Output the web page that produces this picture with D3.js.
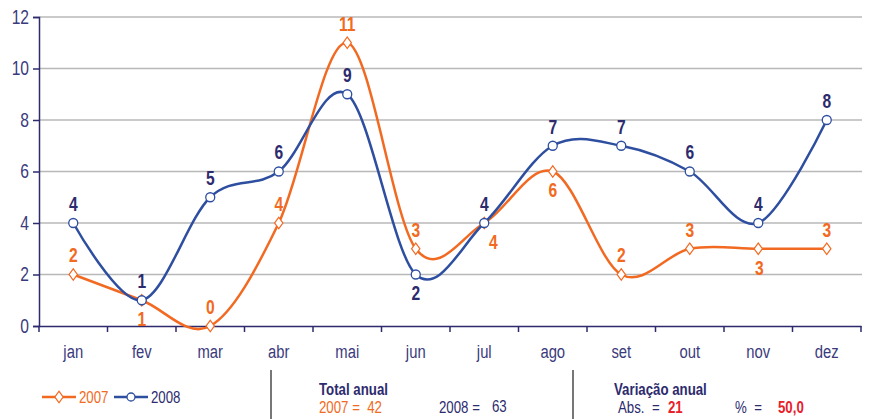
<!DOCTYPE html>
<html><head><meta charset="utf-8">
<script src="https://cdn.jsdelivr.net/npm/d3@7"></script>
<style>
body{margin:0;background:#fff;}
text{font-family:"Liberation Sans","Arial",sans-serif;white-space:pre;}
</style></head>
<body><svg id="c" width="869" height="419"></svg>
<script>
const months = ["jan","fev","mar","abr","mai","jun","jul","ago","set","out","nov","dez"];
const s2007 = [2,1,0,4,11,3,4,6,2,3,3,3];
const s2008 = [4,1,5,6,9,2,4,7,7,6,4,8];
const yTicks = [0,2,4,6,8,10,12];
// label offsets: -1 above, +1 below
const pos2007 = [-1,1,-1,-1,-1,-1,1,1,-1,-1,1,-1];
const pos2008 = [-1,-1,-1,-1,-1,1,-1,-1,-1,-1,-1,-1];

const orange = "#F26A22", blue = "#2E4EA0", navy = "#2D2B6E";
const FF = "'Liberation Sans',Arial,sans-serif";
const svg = d3.select("#c");
const x = d3.scaleBand().domain(months).range([39, 861]);
const y = d3.scaleLinear().domain([0,12]).range([326, 17]);
const cx = d => x(d) + x.bandwidth()/2;

// grid
svg.append("g").selectAll("line").data(yTicks.filter(d=>d>0)).join("line")
  .attr("x1",39).attr("x2",862).attr("y1",d=>y(d)).attr("y2",d=>y(d))
  .attr("stroke","#b8b8b8").attr("stroke-width",1.5);

// y axis
const ya = svg.append("g").attr("transform","translate(39,0)")
  .call(d3.axisLeft(y).tickValues(yTicks).tickSize(6).tickPadding(4));
ya.select(".domain").attr("stroke",navy).attr("stroke-width",1.5);
ya.selectAll(".tick line").attr("stroke",navy).attr("stroke-width",1.5);
ya.selectAll(".tick text").attr("fill","#3a3a7c").style("font-size","20px").style("font-family",FF);

// x axis
const xa = svg.append("g").attr("transform","translate(0,326)")
  .call(d3.axisBottom(x).tickSize(0).tickPadding(19));
xa.select(".domain").attr("stroke",navy).attr("stroke-width",1.5);
xa.selectAll(".tick text").attr("fill","#3a3a7c").style("font-size","19px").style("font-family",FF);
const bounds = months.map(m=>x(m)).concat([x.range()[1]]);
svg.append("g").selectAll("line").data(bounds).join("line")
  .attr("x1",d=>d).attr("x2",d=>d).attr("y1",326).attr("y2",332)
  .attr("stroke",navy).attr("stroke-width",1.5);

const line = d3.line().x((d,i)=>cx(months[i])).y(d=>y(d)).curve(d3.curveCardinal.tension(0));

svg.append("path").datum(s2007).attr("d",line).attr("fill","none").attr("stroke",orange).attr("stroke-width",2.5);
svg.append("path").datum(s2008).attr("d",line).attr("fill","none").attr("stroke",blue).attr("stroke-width",2.5);

const diamond = d3.symbol().type(d3.symbolDiamond).size(60);
svg.append("g").selectAll("path").data(s2007).join("path")
  .attr("d",diamond).attr("transform",(d,i)=>`translate(${cx(months[i])},${y(d)}) scale(1.0,0.8)`)
  .attr("fill","#fff").attr("stroke",orange).attr("stroke-width",1.3);
svg.append("g").selectAll("circle").data(s2008).join("circle")
  .attr("cx",(d,i)=>cx(months[i])).attr("cy",d=>y(d)).attr("r",4.5)
  .attr("fill","#fff").attr("stroke",blue).attr("stroke-width",1.3);

// data labels
function labels(data, pos, color, dx){
  svg.append("g").selectAll("text").data(data).join("text")
    .attr("x",(d,i)=>cx(months[i]) + (dx? dx[i]:0))
    .attr("y",(d,i)=>y(d) + (pos[i]<0 ? -12 : 26))
    .attr("text-anchor","middle").attr("fill",color)
    .style("font-size","20px").style("font-weight","bold").text(d=>d);
}
labels(s2007,pos2007,orange,[0,0,0,0,0,0,9,0,0,0,1,0]);
labels(s2008,pos2008,navy,null);

// legend
const lg = svg.append("g");
lg.append("line").attr("x1",42).attr("x2",76).attr("y1",397).attr("y2",397).attr("stroke",orange).attr("stroke-width",2.5);
lg.append("path").attr("d",diamond).attr("transform","translate(59,397) scale(1,0.8)").attr("fill","#fff").attr("stroke",orange).attr("stroke-width",1.3);
lg.append("text").attr("x",79).attr("y",403).attr("fill",orange).style("font-size","17px").text("2007");
lg.append("line").attr("x1",114).attr("x2",148).attr("y1",397).attr("y2",397).attr("stroke",blue).attr("stroke-width",2.5);
lg.append("circle").attr("cx",131).attr("cy",397).attr("r",4).attr("fill","#fff").attr("stroke",blue).attr("stroke-width",1.3);
lg.append("text").attr("x",151).attr("y",403).attr("fill",navy).style("font-size","17px").text("2008");

// separators
[271,573].forEach(v=>svg.append("line").attr("x1",v).attr("x2",v).attr("y1",370).attr("y2",419).attr("stroke","#777").attr("stroke-width",2));

// totals
const tot2007 = d3.sum(s2007), tot2008 = d3.sum(s2008);
const T = (xx,yy,col,txt,bold)=>svg.append("text").attr("x",xx).attr("y",yy).attr("fill",col).style("font-size","17px").style("font-weight",bold?"bold":"normal").text(txt);
T(319,395,navy,"Total anual",true);
T(319,413,orange,`2007 =  ${tot2007}`);
T(439,413,navy,"2008 =");
T(492,412,navy,tot2008);
T(614,395,navy,"Variação anual",true);
T(618,413,navy,"Abs.  =");
T(668,413,"#E8202A",tot2008 - tot2007,true);
T(735,413,navy,"%  =");
T(778,413,"#E8202A",((tot2008-tot2007)/tot2007*100).toFixed(1).replace(".",","),true);

// condense all text horizontally (narrow face)
svg.selectAll("text").each(function(){
  const t = d3.select(this);
  const tx = +(t.attr("x")||0);
  t.attr("transform",`translate(${tx},0) scale(0.78,1) translate(${-tx},0)`);
});
</script></body></html>
